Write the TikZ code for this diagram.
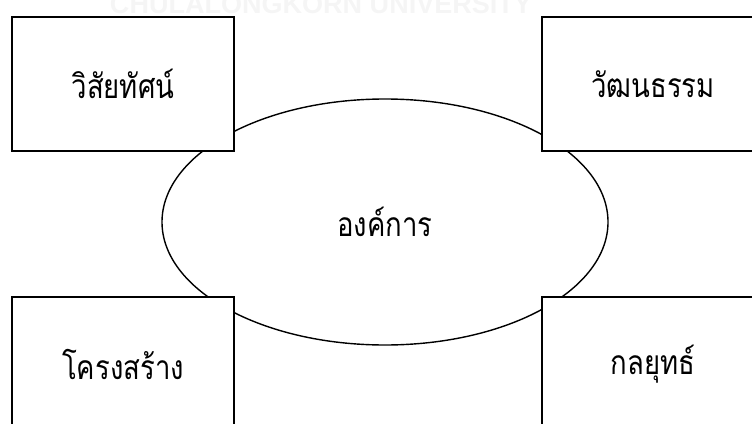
\documentclass[tikz,border=0pt]{standalone}
\usepackage{fontspec}
\setmainfont{Liberation Sans}
\newfontfamily\thaifont[Script=Thai]{Loma}
\usetikzlibrary{shapes.geometric}
% Thai labels: Loma set a little taller than its natural proportions
\newcommand{\tlabel}[1]{\scalebox{1}[1.22]{#1}}
\begin{document}
\begin{tikzpicture}[x=1pt,y=-1pt,
  thaitext/.style={font=\thaifont\fontsize{27.5}{30}\selectfont},
  conceptbox/.style={draw, line width=1.4pt, fill=white, minimum width=222pt,
    minimum height=134pt, inner sep=0pt, thaitext},
  core/.style={ellipse, draw, line width=1.4pt, fill=white, minimum width=446pt,
    minimum height=246pt, inner sep=0pt, thaitext},
  watermark/.style={text=black!4, anchor=base, inner sep=0pt,
    font=\bfseries\fontsize{28}{30}\selectfont}]
\useasboundingbox (0,0) rectangle (752,423);
\begin{scope}
  \clip (0,0) rectangle (752,423);
  % faint watermark along the top edge
  \node[watermark] (mark) at (321,14) {\resizebox{422pt}{!}{CHULALONGKORN UNIVERSITY}};
  % central ellipse, partly hidden by the four boxes
  \node[core] (org) at (385,222) {\tlabel{องค์การ}};
  % the four surrounding boxes
  \node[conceptbox] (vision) at (123,84) {\tlabel{วิสัยทัศน์}};
  \node[conceptbox] (culture) at (653,84) {\tlabel{วัฒนธรรม}};
  \node[conceptbox] (structure) at (123,364) {\tlabel{โครงสร้าง}};
  \node[conceptbox] (strategy) at (653,364) {\tlabel{กลยุทธ์}};
\end{scope}
\end{tikzpicture}
\end{document}
